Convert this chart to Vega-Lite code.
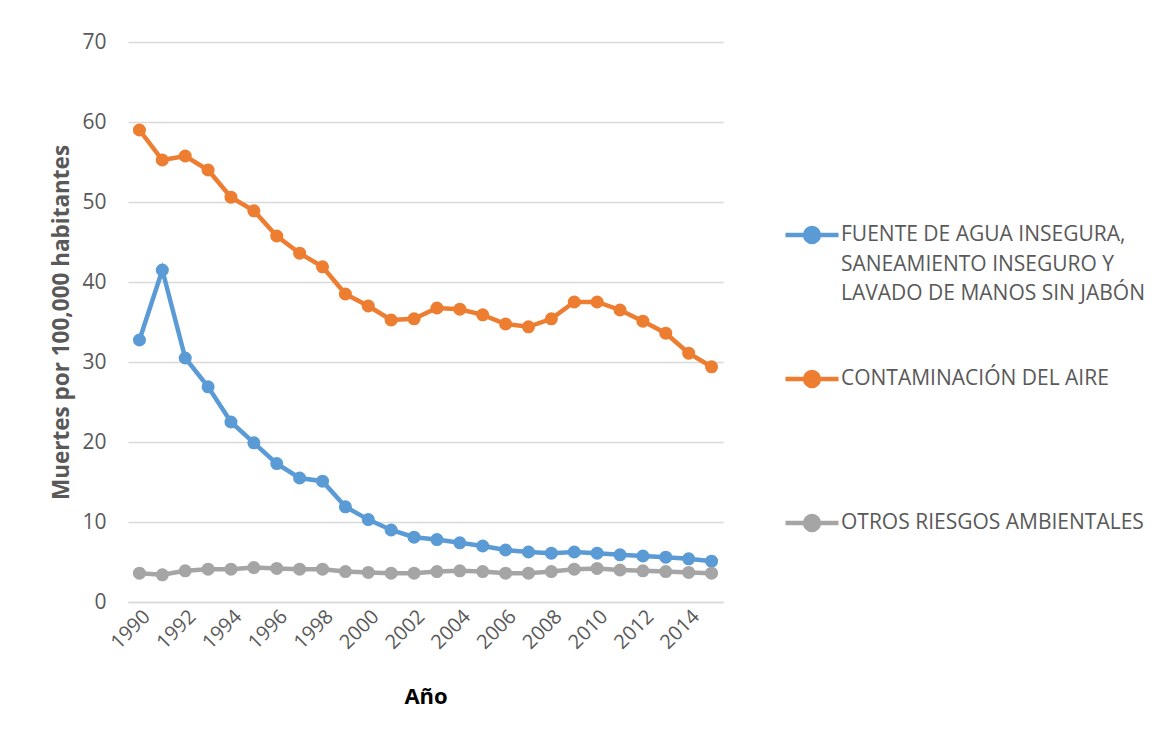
{
  "$schema": "https://vega.github.io/schema/vega-lite/v6.json",
  "width": 595,
  "height": 560,
  "autosize": {"type": "none"},
  "padding": {"left": 128, "top": 42, "right": 437, "bottom": 139},
  "background": "white",
  "config": {
    "view": {"stroke": null},
    "font": "Open Sans",
    "axis": {"labelFont": "Open Sans", "titleFont": "Open Sans", "labelColor": "#595959", "titleColor": "#595959"}
  },
  "data": {
    "values": [
      {"year": 1990, "serie": "FUENTE", "value": 32.75},
      {"year": 1991, "serie": "FUENTE", "value": 41.5},
      {"year": 1992, "serie": "FUENTE", "value": 30.5},
      {"year": 1993, "serie": "FUENTE", "value": 26.9},
      {"year": 1994, "serie": "FUENTE", "value": 22.5},
      {"year": 1995, "serie": "FUENTE", "value": 19.9},
      {"year": 1996, "serie": "FUENTE", "value": 17.3},
      {"year": 1997, "serie": "FUENTE", "value": 15.5},
      {"year": 1998, "serie": "FUENTE", "value": 15.1},
      {"year": 1999, "serie": "FUENTE", "value": 11.9},
      {"year": 2000, "serie": "FUENTE", "value": 10.3},
      {"year": 2001, "serie": "FUENTE", "value": 9.0},
      {"year": 2002, "serie": "FUENTE", "value": 8.1},
      {"year": 2003, "serie": "FUENTE", "value": 7.8},
      {"year": 2004, "serie": "FUENTE", "value": 7.4},
      {"year": 2005, "serie": "FUENTE", "value": 7.0},
      {"year": 2006, "serie": "FUENTE", "value": 6.5},
      {"year": 2007, "serie": "FUENTE", "value": 6.25},
      {"year": 2008, "serie": "FUENTE", "value": 6.1},
      {"year": 2009, "serie": "FUENTE", "value": 6.25},
      {"year": 2010, "serie": "FUENTE", "value": 6.1},
      {"year": 2011, "serie": "FUENTE", "value": 5.9},
      {"year": 2012, "serie": "FUENTE", "value": 5.75},
      {"year": 2013, "serie": "FUENTE", "value": 5.6},
      {"year": 2014, "serie": "FUENTE", "value": 5.4},
      {"year": 2015, "serie": "FUENTE", "value": 5.1},
      {"year": 1990, "serie": "CONTAMINACIÓN DEL AIRE", "value": 59.0},
      {"year": 1991, "serie": "CONTAMINACIÓN DEL AIRE", "value": 55.25},
      {"year": 1992, "serie": "CONTAMINACIÓN DEL AIRE", "value": 55.75},
      {"year": 1993, "serie": "CONTAMINACIÓN DEL AIRE", "value": 54.0},
      {"year": 1994, "serie": "CONTAMINACIÓN DEL AIRE", "value": 50.6},
      {"year": 1995, "serie": "CONTAMINACIÓN DEL AIRE", "value": 48.9},
      {"year": 1996, "serie": "CONTAMINACIÓN DEL AIRE", "value": 45.75},
      {"year": 1997, "serie": "CONTAMINACIÓN DEL AIRE", "value": 43.6},
      {"year": 1998, "serie": "CONTAMINACIÓN DEL AIRE", "value": 41.9},
      {"year": 1999, "serie": "CONTAMINACIÓN DEL AIRE", "value": 38.5},
      {"year": 2000, "serie": "CONTAMINACIÓN DEL AIRE", "value": 37.0},
      {"year": 2001, "serie": "CONTAMINACIÓN DEL AIRE", "value": 35.25},
      {"year": 2002, "serie": "CONTAMINACIÓN DEL AIRE", "value": 35.4},
      {"year": 2003, "serie": "CONTAMINACIÓN DEL AIRE", "value": 36.75},
      {"year": 2004, "serie": "CONTAMINACIÓN DEL AIRE", "value": 36.6},
      {"year": 2005, "serie": "CONTAMINACIÓN DEL AIRE", "value": 35.9},
      {"year": 2006, "serie": "CONTAMINACIÓN DEL AIRE", "value": 34.75},
      {"year": 2007, "serie": "CONTAMINACIÓN DEL AIRE", "value": 34.4},
      {"year": 2008, "serie": "CONTAMINACIÓN DEL AIRE", "value": 35.4},
      {"year": 2009, "serie": "CONTAMINACIÓN DEL AIRE", "value": 37.5},
      {"year": 2010, "serie": "CONTAMINACIÓN DEL AIRE", "value": 37.5},
      {"year": 2011, "serie": "CONTAMINACIÓN DEL AIRE", "value": 36.5},
      {"year": 2012, "serie": "CONTAMINACIÓN DEL AIRE", "value": 35.1},
      {"year": 2013, "serie": "CONTAMINACIÓN DEL AIRE", "value": 33.6},
      {"year": 2014, "serie": "CONTAMINACIÓN DEL AIRE", "value": 31.1},
      {"year": 2015, "serie": "CONTAMINACIÓN DEL AIRE", "value": 29.4},
      {"year": 1990, "serie": "OTROS RIESGOS AMBIENTALES", "value": 3.6},
      {"year": 1991, "serie": "OTROS RIESGOS AMBIENTALES", "value": 3.4},
      {"year": 1992, "serie": "OTROS RIESGOS AMBIENTALES", "value": 3.9},
      {"year": 1993, "serie": "OTROS RIESGOS AMBIENTALES", "value": 4.1},
      {"year": 1994, "serie": "OTROS RIESGOS AMBIENTALES", "value": 4.1},
      {"year": 1995, "serie": "OTROS RIESGOS AMBIENTALES", "value": 4.3},
      {"year": 1996, "serie": "OTROS RIESGOS AMBIENTALES", "value": 4.2},
      {"year": 1997, "serie": "OTROS RIESGOS AMBIENTALES", "value": 4.1},
      {"year": 1998, "serie": "OTROS RIESGOS AMBIENTALES", "value": 4.1},
      {"year": 1999, "serie": "OTROS RIESGOS AMBIENTALES", "value": 3.8},
      {"year": 2000, "serie": "OTROS RIESGOS AMBIENTALES", "value": 3.7},
      {"year": 2001, "serie": "OTROS RIESGOS AMBIENTALES", "value": 3.6},
      {"year": 2002, "serie": "OTROS RIESGOS AMBIENTALES", "value": 3.6},
      {"year": 2003, "serie": "OTROS RIESGOS AMBIENTALES", "value": 3.8},
      {"year": 2004, "serie": "OTROS RIESGOS AMBIENTALES", "value": 3.9},
      {"year": 2005, "serie": "OTROS RIESGOS AMBIENTALES", "value": 3.8},
      {"year": 2006, "serie": "OTROS RIESGOS AMBIENTALES", "value": 3.6},
      {"year": 2007, "serie": "OTROS RIESGOS AMBIENTALES", "value": 3.6},
      {"year": 2008, "serie": "OTROS RIESGOS AMBIENTALES", "value": 3.8},
      {"year": 2009, "serie": "OTROS RIESGOS AMBIENTALES", "value": 4.1},
      {"year": 2010, "serie": "OTROS RIESGOS AMBIENTALES", "value": 4.2},
      {"year": 2011, "serie": "OTROS RIESGOS AMBIENTALES", "value": 4.0},
      {"year": 2012, "serie": "OTROS RIESGOS AMBIENTALES", "value": 3.9},
      {"year": 2013, "serie": "OTROS RIESGOS AMBIENTALES", "value": 3.8},
      {"year": 2014, "serie": "OTROS RIESGOS AMBIENTALES", "value": 3.7},
      {"year": 2015, "serie": "OTROS RIESGOS AMBIENTALES", "value": 3.6}
    ]
  },
  "mark": {"type": "line", "strokeWidth": 4.5, "point": {"size": 170, "filled": true, "opacity": 1}},
  "encoding": {
    "x": {
      "field": "year", "type": "quantitative",
      "scale": {"domain": [1989.5, 2015.5], "nice": false, "zero": false},
      "axis": {
        "title": "Año", "titleFontSize": 22, "titleFontWeight": "bold", "titleColor": "#000000", "titlePadding": 34,
        "values": [1990, 1992, 1994, 1996, 1998, 2000, 2002, 2004, 2006, 2008, 2010, 2012, 2014],
        "format": "d", "labelAngle": -45, "labelFontSize": 20, "labelPadding": 4,
        "grid": false, "ticks": false, "domain": true, "domainColor": "#d9d9d9", "domainWidth": 1.5, "labelFlush": false, "labelOverlap": false
      }
    },
    "y": {
      "field": "value", "type": "quantitative",
      "scale": {"domain": [0, 70], "nice": false},
      "axis": {
        "title": "Muertes por 100,000 habitantes", "titleFontSize": 22.5, "titleFontWeight": "bold", "titleColor": "#595959", "titlePadding": 8,
        "values": [0, 10, 20, 30, 40, 50, 60, 70], "labelFontSize": 21, "labelPadding": 22,
        "ticks": false, "domain": false, "grid": true, "gridColor": "#d9d9d9", "gridWidth": 1.5
      }
    },
    "color": {
      "field": "serie", "type": "nominal",
      "scale": {
        "domain": ["FUENTE", "CONTAMINACIÓN DEL AIRE", "OTROS RIESGOS AMBIENTALES"],
        "range": ["#5b9bd5", "#ed7d31", "#a5a5a5"]
      },
      "legend": {
        "title": null, "orient": "none", "legendX": 655, "legendY": 164,
        "direction": "vertical",
        "symbolType": "M-1,0H1M-0.26,0A0.26,0.26,0,1,1,0.26,0A0.26,0.26,0,1,1,-0.26,0Z",
        "symbolSize": 2809, "symbolStrokeWidth": 4.5, "symbolOpacity": 1,
        "labelFont": "Open Sans", "labelFontSize": 21, "labelColor": "#595959", "labelLimit": 400, "labelOffset": 0,
        "labelExpr": "datum.label == 'FUENTE' ? ['FUENTE DE AGUA INSEGURA,', 'SANEAMIENTO INSEGURO Y', 'LAVADO DE MANOS SIN JABÓN'] : [datum.label, ' ', ' ']",
        "rowPadding": 46,
        "encode": {
          "symbols": {"update": {"fill": {"scale": "color", "field": "value"}, "stroke": {"scale": "color", "field": "value"}}},
          "labels": {"update": {"lineHeight": {"value": 29.5}}}
        }
      }
    }
  }
}
